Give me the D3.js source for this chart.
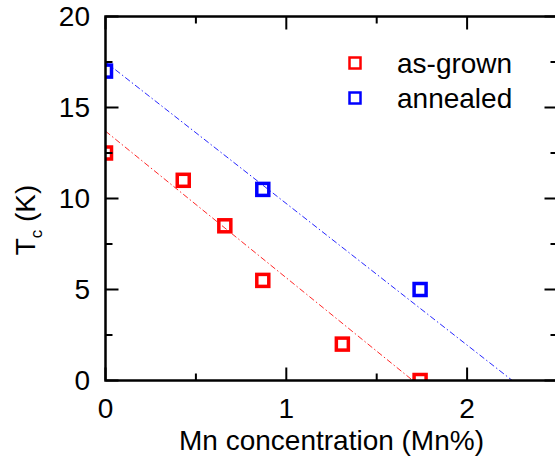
<!DOCTYPE html>
<html><head><meta charset="utf-8">
<script src="https://cdn.jsdelivr.net/npm/d3@7"></script>
<style>
html,body{margin:0;padding:0;background:#fff;overflow:hidden;}
text{font-family:"Liberation Sans",Arial,sans-serif;fill:#000;}
</style></head>
<body><svg id="c" width="555" height="467"></svg>
<script>
const asGrownX = [0, 0.43, 0.66, 0.87, 1.31, 1.74];
const asGrownY = [12.5, 11, 8.5, 5.5, 2, 0];
const annealedX = [0, 0.87, 1.74];
const annealedY = [17, 10.5, 5];
const fitAsGrown = [[0, 13.7], [1.70, 0]];
const fitAnnealed = [[0, 17.5], [2.25, 0]];
const xTicks = [0, 1, 2];
const yTicks = [0, 5, 10, 15, 20];
const xMinor = [0.5, 1.5, 2.5];
const yMinor = [2.5, 7.5, 12.5, 17.5];
const seriesNames = ["as-grown", "annealed"];
const seriesColors = ["#ff0000", "#0000ff"];

const svg = d3.select("#c");
const m = {l: 105.5, t: 16.5, r: 557.5, b: 380.5};
const x = d3.scaleLinear().domain([0, 2.5]).range([m.l, m.r]);
const y = d3.scaleLinear().domain([0, 20]).range([m.b, m.t]);

svg.append("defs").append("clipPath").attr("id", "clip")
  .append("rect").attr("x", m.l).attr("y", m.t).attr("width", m.r - m.l).attr("height", m.b - m.t);

const plot = svg.append("g").attr("clip-path", "url(#clip)");

// fit lines
[fitAsGrown, fitAnnealed].forEach((f, i) => {
  plot.append("path")
    .attr("d", d3.line().x(d => x(d[0])).y(d => y(d[1]))(f))
    .attr("fill", "none").attr("stroke", seriesColors[i]).attr("stroke-width", 1)
    .attr("stroke-dasharray", "6,2.5,1.5,2.5").attr("opacity", 0.85);
});

// markers
const sq = 12;
[[asGrownX, asGrownY], [annealedX, annealedY]].forEach((s, i) => {
  plot.selectAll(null).data(s[0].map((v, j) => [v, s[1][j]])).enter().append("rect")
    .attr("x", d => x(d[0]) - sq / 2).attr("y", d => y(d[1]) - sq / 2)
    .attr("width", sq).attr("height", sq)
    .attr("fill", "none").attr("stroke", seriesColors[i]).attr("stroke-width", 3.5);
});

// axes
const ax = svg.append("g");
ax.append("rect").attr("x", m.l).attr("y", m.t).attr("width", m.r - m.l).attr("height", m.b - m.t)
  .attr("fill", "none").attr("stroke", "#000").attr("stroke-width", 2.5);

function ticks(vals, len) {
  vals.forEach(v => {
    ax.append("line").attr("x1", x(v)).attr("x2", x(v)).attr("y1", m.b).attr("y2", m.b - len).attr("stroke", "#000").attr("stroke-width", 2);
    ax.append("line").attr("x1", x(v)).attr("x2", x(v)).attr("y1", m.t).attr("y2", m.t + len).attr("stroke", "#000").attr("stroke-width", 2);
  });
}
function yticks(vals, len) {
  vals.forEach(v => {
    ax.append("line").attr("y1", y(v)).attr("y2", y(v)).attr("x1", m.l).attr("x2", m.l + len).attr("stroke", "#000").attr("stroke-width", 2);
    ax.append("line").attr("y1", y(v)).attr("y2", y(v)).attr("x1", m.r).attr("x2", m.r - len).attr("stroke", "#000").attr("stroke-width", 2);
  });
}
ticks(xTicks, 13); ticks(xMinor, 7);
yticks(yTicks, 13); yticks(yMinor, 7);

ax.selectAll(null).data(xTicks).enter().append("text")
  .attr("x", d => x(d)).attr("y", 418).attr("text-anchor", "middle")
  .attr("font-size", 28).text(d => d);
ax.selectAll(null).data(yTicks).enter().append("text")
  .attr("x", 90).attr("y", d => y(d) + 9.5).attr("text-anchor", "end")
  .attr("font-size", 28).text(d => d);

svg.append("text").attr("x", (m.l + m.r) / 2).attr("y", 450).attr("text-anchor", "middle")
  .attr("font-size", 28).text("Mn concentration (Mn%)");

const yt = svg.append("text").attr("transform", "translate(35,220) rotate(-90)")
  .attr("text-anchor", "middle").attr("font-size", 28);
yt.append("tspan").text("T");
yt.append("tspan").attr("font-size", 17).attr("dy", 7).text("c");
yt.append("tspan").attr("dy", -7).text(" (K)");

// legend
seriesNames.forEach((n, i) => {
  const cy = 63 + i * 35;
  svg.append("rect").attr("x", 355 - 5.5).attr("y", cy - 5.5).attr("width", 11).attr("height", 11)
    .attr("fill", "none").attr("stroke", seriesColors[i]).attr("stroke-width", 2.5);
  svg.append("text").attr("x", 397).attr("y", cy + 10).attr("font-size", 28).text(n);
});
</script></body></html>
